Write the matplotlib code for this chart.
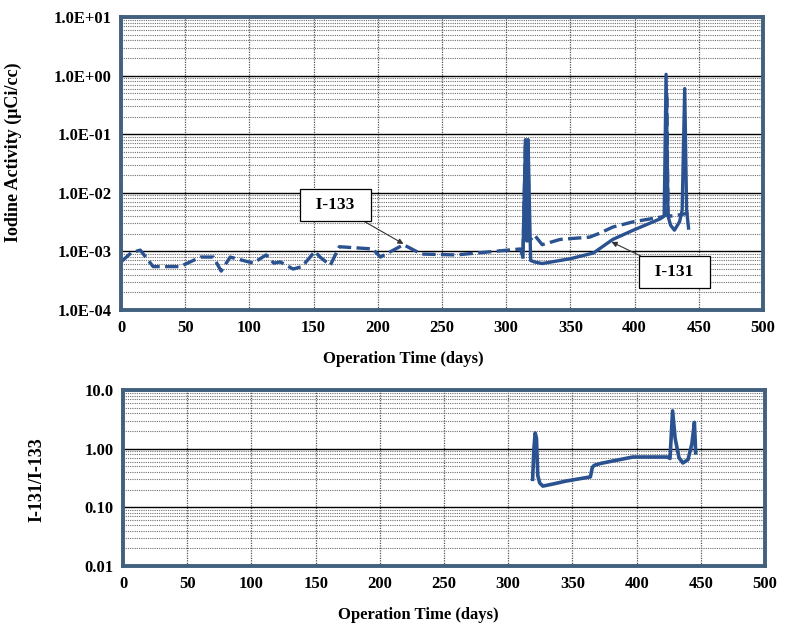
import numpy as np
import matplotlib
matplotlib.use("Agg")
import matplotlib.pyplot as plt
from matplotlib.ticker import FixedLocator, FixedFormatter, LogLocator, NullFormatter

plt.rcParams["font.family"] = ["Liberation Serif", "DejaVu Serif"]
plt.rcParams["font.weight"] = "bold"
plt.rcParams["axes.labelweight"] = "bold"

# I-133 activity (dashed), uCi/cc
i133_days = [0, 8, 15, 25, 46, 62, 72, 78, 85, 103, 113, 119, 124, 134, 141, 151, 155, 163,
             170, 196, 202, 220, 234, 261, 311, 313, 315, 316, 317, 318, 322, 328, 342, 365,
             373, 383, 399, 422, 424, 425, 426, 428, 435, 442]
i133_vals = [6.6e-4, 9.5e-4, 1.05e-3, 5.5e-4, 5.5e-4, 8e-4, 8e-4, 4.6e-4, 8e-4, 6.3e-4, 8.7e-4,
             6.3e-4, 6.6e-4, 5e-4, 5.5e-4, 1.0e-3, 8e-4, 5.8e-4,
             1.2e-3, 1.1e-3, 8e-4, 1.3e-3, 9e-4, 8.7e-4, 1.1e-3, 8e-4, 8e-2, 2e-3, 8e-2, 1.5e-3,
             1.9e-3, 1.3e-3, 1.6e-3, 1.75e-3,
             2.05e-3, 2.6e-3, 3.2e-3, 3.9e-3, 4.2e-3, 0.5, 4.2e-3, 4.0e-3, 4.2e-3, 4.5e-3]

# I-131 activity (solid), uCi/cc
i131_days = [313, 315, 316, 317, 319, 322, 328, 350, 368, 383, 399, 420, 423, 424.5, 426, 428,
             431, 435, 437, 439, 440.5, 442]
i131_vals = [8e-4, 8e-2, 1.5e-3, 8e-2, 7e-4, 6.6e-4, 6.2e-4, 7.5e-4, 9.4e-4, 1.6e-3, 2.3e-3,
             3.6e-3, 4.0e-3, 1.05, 4e-3, 2.8e-3, 2.3e-3, 3.2e-3, 5e-3, 0.6, 5e-3, 2.5e-3]

# ratio I-131/I-133
ratio_days = [319, 320, 321, 322, 323, 324.5, 327, 335, 345, 364, 365.5, 367, 372, 397, 424,
              426, 428, 430, 433, 436, 440, 443, 445, 446]
ratio_vals = [0.30, 1.0, 1.85, 1.5, 0.35, 0.26, 0.23, 0.25, 0.28, 0.33, 0.48, 0.52, 0.56, 0.72,
              0.72, 0.68, 4.4, 1.5, 0.7, 0.57, 0.65, 1.2, 2.8, 0.85]

top_ticks = [1e-4, 1e-3, 1e-2, 1e-1, 1e0, 1e1]
top_labels = ["1.0E-04", "1.0E-03", "1.0E-02", "1.0E-01", "1.0E+00", "1.0E+01"]
bot_ticks = [0.01, 0.1, 1, 10]
bot_labels = ["0.01", "0.10", "1.00", "10.0"]

line_col = "#2a5190"
frame_col = "#41617f"

fig = plt.figure(figsize=(8.02, 6.29), dpi=100)
ax1 = fig.add_axes([0.1509, 0.5072, 0.8005, 0.4658])
ax2 = fig.add_axes([0.1534, 0.1002, 0.8005, 0.2798])


def style(ax, ticks, labels):
    ax.set_yscale("log")
    ax.set_xlim(0, 500)
    ax.set_ylim(ticks[0], ticks[-1])
    ax.xaxis.set_major_locator(FixedLocator(np.arange(0, 501, 50)))
    ax.yaxis.set_major_locator(FixedLocator(ticks))
    ax.yaxis.set_major_formatter(FixedFormatter(labels))
    ax.yaxis.set_minor_locator(LogLocator(base=10, subs=np.arange(2, 10), numticks=20))
    ax.yaxis.set_minor_formatter(NullFormatter())
    ax.grid(True, which="major", axis="y", color="black", lw=1.0)
    ax.grid(True, which="minor", axis="y", color="#6f6f6f", lw=0.8, ls=(0, (1, 1)))
    ax.grid(True, which="major", axis="x", color="#555555", lw=0.9, ls=(0, (1, 1)))
    ax.tick_params(which="both", length=0, labelsize=12, pad=7)
    for s in ax.spines.values():
        s.set_color(frame_col)
        s.set_linewidth(2.8)
    ax.set_axisbelow(True)


style(ax1, top_ticks, top_labels)
style(ax2, bot_ticks, bot_labels)

ax1.plot(i133_days, i133_vals, color=line_col, lw=2.4, ls=(0, (4, 1.6)))
ax1.plot(i131_days, i131_vals, color=line_col, lw=2.4)
ax2.plot(ratio_days, ratio_vals, color=line_col, lw=2.6)

box = dict(boxstyle="square,pad=0.45", fc="white", ec="black", lw=0.9)
arrow = dict(arrowstyle="-|>", color="#333333", lw=0.8, mutation_scale=8, shrinkA=0, shrinkB=0)
ax1.annotate("  I-133  ", xy=(220, 1.34e-3), xytext=(167, 6.2e-3), fontsize=12.5, ha="center",
             va="center", bbox=box, arrowprops=arrow)
ax1.annotate("  I-131  ", xy=(382, 1.45e-3), xytext=(431, 4.4e-4), fontsize=12.5, ha="center",
             va="center", bbox=box, arrowprops=arrow)

ax1.set_xlabel("Operation Time (days)", fontsize=12)
ax1.xaxis.set_label_coords(0.44, -0.14)
ax1.set_ylabel("Iodine Activity (\u03bcCi/cc)", fontsize=13)
ax1.yaxis.set_label_coords(-0.154, 0.54)

ax2.set_xlabel("Operation Time (days)", fontsize=12)
ax2.xaxis.set_label_coords(0.46, -0.235)
ax2.set_ylabel("I-131/I-133", fontsize=13)
ax2.yaxis.set_label_coords(-0.121, 0.49)

fig.savefig("out.png", dpi=100)
